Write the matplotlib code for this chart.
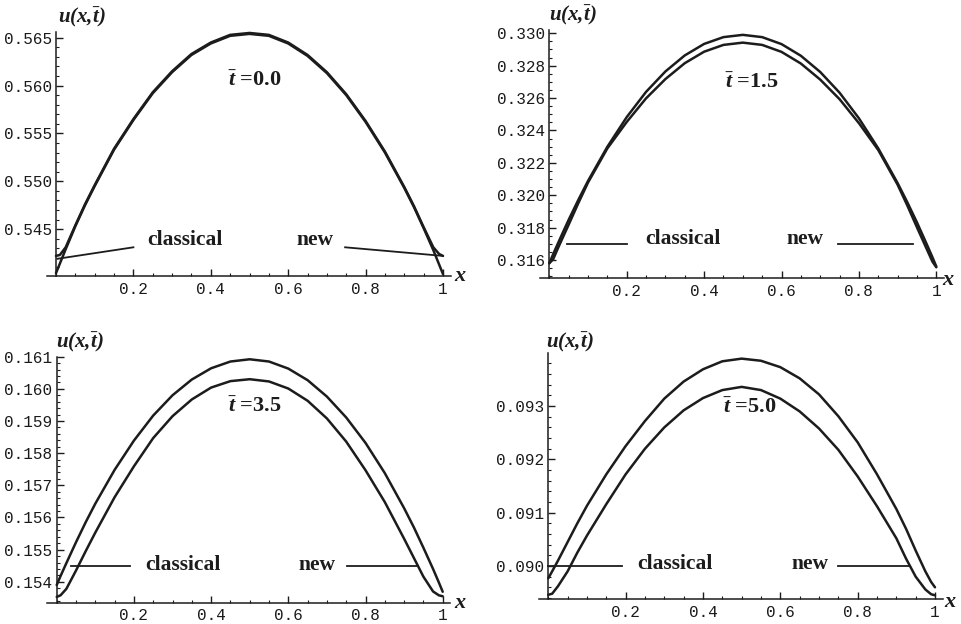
import matplotlib
matplotlib.use("Agg")
import matplotlib.pyplot as plt
from matplotlib.ticker import FixedLocator, MultipleLocator

# ---------------- data ----------------
x = [0, 0.01, 0.025, 0.05, 0.075, 0.1, 0.15, 0.2, 0.25, 0.3, 0.35, 0.4, 0.45, 0.5,
     0.55, 0.6, 0.65, 0.7, 0.75, 0.8, 0.85, 0.9, 0.925, 0.95, 0.975, 0.99, 1.0]

# t = 0.0
classical_t00 = [0.5404, 0.5414, 0.5429, 0.5453, 0.5475, 0.5495, 0.5533, 0.5564, 0.5592,
                 0.5614, 0.5632, 0.5644, 0.5652, 0.5654, 0.5652, 0.5644, 0.5631, 0.5613,
                 0.5590, 0.5562, 0.5530, 0.5493, 0.5473, 0.5451, 0.5428, 0.5413, 0.5403]
new_t00 = [0.5422, 0.5423, 0.5431, 0.5454, 0.5476, 0.5496, 0.5534, 0.5565, 0.5593,
           0.5615, 0.5633, 0.5645, 0.5653, 0.5655, 0.5653, 0.5645, 0.5632, 0.5614,
           0.5591, 0.5563, 0.5531, 0.5494, 0.5474, 0.5452, 0.5431, 0.5424, 0.5422]

# t = 1.5
classical_t15 = [0.31580, 0.31636, 0.31717, 0.31848, 0.31971, 0.32088, 0.32299, 0.32482,
                 0.32638, 0.32764, 0.32863, 0.32934, 0.32976, 0.32990, 0.32976, 0.32933,
                 0.32861, 0.32761, 0.32633, 0.32475, 0.32289, 0.32075, 0.31957, 0.31832,
                 0.31699, 0.31617, 0.31560]
new_t15 = [0.31580, 0.31605, 0.31687, 0.31818, 0.31951, 0.32078, 0.32289, 0.32452,
           0.32598, 0.32717, 0.32815, 0.32886, 0.32928, 0.32942, 0.32928, 0.32885,
           0.32813, 0.32714, 0.32593, 0.32445, 0.32279, 0.32065, 0.31937, 0.31802,
           0.31669, 0.31590, 0.31555]

# t = 3.5
classical_t35 = [0.15390, 0.15418, 0.15458, 0.15523, 0.15585, 0.15643, 0.15748, 0.15839,
                 0.15917, 0.15980, 0.16029, 0.16064, 0.16085, 0.16092, 0.16085, 0.16063,
                 0.16027, 0.15976, 0.15911, 0.15832, 0.15738, 0.15629, 0.15570, 0.15506,
                 0.15440, 0.15398, 0.15369]
new_t35 = [0.15353, 0.15358, 0.15378, 0.15435, 0.15495, 0.15553, 0.15663, 0.15759,
           0.15847, 0.15915, 0.15967, 0.16004, 0.16024, 0.16030, 0.16023, 0.16001,
           0.15963, 0.15908, 0.15836, 0.15747, 0.15648, 0.15534, 0.15475, 0.15416,
           0.15370, 0.15358, 0.15355]

# t = 5.0
classical_t50 = [0.08977, 0.08990, 0.09010, 0.09045, 0.09080, 0.09113, 0.09172, 0.09225,
                 0.09272, 0.09314, 0.09346, 0.09369, 0.09384, 0.09389, 0.09385, 0.09373,
                 0.09352, 0.09322, 0.09281, 0.09232, 0.09172, 0.09107, 0.09070, 0.09029,
                 0.08990, 0.08970, 0.08960]
new_t50 = [0.08946, 0.08948, 0.08962, 0.08990, 0.09025, 0.09057, 0.09116, 0.09172,
           0.09220, 0.09260, 0.09292, 0.09315, 0.09330, 0.09336, 0.09330, 0.09314,
           0.09290, 0.09258, 0.09218, 0.09168, 0.09112, 0.09052, 0.09014, 0.08980,
           0.08956, 0.08947, 0.08945]

time_labels = ["0.0", "1.5", "3.5", "5.0"]
x_ticks = [0.2, 0.4, 0.6, 0.8, 1.0]
x_tick_labels = ["0.2", "0.4", "0.6", "0.8", "1"]
y_ticks_t00 = [0.545, 0.550, 0.555, 0.560, 0.565]
y_ticks_t15 = [0.316, 0.318, 0.320, 0.322, 0.324, 0.326, 0.328, 0.330]
y_ticks_t35 = [0.154, 0.155, 0.156, 0.157, 0.158, 0.159, 0.160, 0.161]
y_ticks_t50 = [0.090, 0.091, 0.092, 0.093]

# ---------------- layout / style ----------------
W, H = 962, 624
INK = "#1c1c1c"
plt.rcParams["mathtext.fontset"] = "custom"
plt.rcParams["mathtext.it"] = "Liberation Serif:italic:bold"
plt.rcParams["mathtext.rm"] = "Liberation Serif:bold"
plt.rcParams["mathtext.bf"] = "Liberation Serif:bold"

fig = plt.figure(figsize=(W / 100, H / 100), dpi=100)
fig.patch.set_facecolor("white")

panels = [
    dict(cls=classical_t00, new=new_t00, yt=y_ticks_t00, ylim=(0.5401, 0.5656),
         ymin=0.001, x0=56.0, sc=387.0, top=32.0, bot=276.0,
         ptr_c=([0.004, 0.2], [0.5419, 0.5431]), ptr_n=([0.747, 1.0], [0.5431, 0.5422]),
         lab_c=(0.333, 0.5439), lab_n=(0.669, 0.5439), lab_t=(0.514, 0.5605),
         ulab=(82, 17), xlab=(460, 276), tl=time_labels[0]),
    dict(cls=classical_t15, new=new_t15, yt=y_ticks_t15, ylim=(0.31487, 0.3302),
         ymin=0.0005, x0=549.3, sc=387.0, top=30.0, bot=278.3,
         ptr_c=([0.0465, 0.2], [0.317, 0.317]), ptr_n=([0.747, 0.9406], [0.317, 0.317]),
         lab_c=(0.346, 0.31728), lab_n=(0.661, 0.31728), lab_t=(0.523, 0.32695),
         ulab=(573, 15), xlab=(948, 280), tl=time_labels[1]),
    dict(cls=classical_t35, new=new_t35, yt=y_ticks_t35, ylim=(0.15335, 0.161),
         ymin=0.0002, x0=56.7, sc=386.0, top=356.7, bot=602.7,
         ptr_c=([0.036, 0.19], [0.1545, 0.1545]), ptr_n=([0.751, 0.937], [0.1545, 0.1545]),
         lab_c=(0.328, 0.15452), lab_n=(0.673, 0.15452), lab_t=(0.514, 0.15944),
         ulab=(80, 342), xlab=(460, 603), tl=time_labels[2]),
    dict(cls=classical_t50, new=new_t50, yt=y_ticks_t50, ylim=(0.089375, 0.09399),
         ymin=0.0002, x0=548.3, sc=386.7, top=353.3, bot=599.3,
         ptr_c=([0.0, 0.19], [0.0900, 0.0900]), ptr_n=([0.75, 0.935], [0.0900, 0.0900]),
         lab_c=(0.328, 0.09004), lab_n=(0.676, 0.09004), lab_t=(0.521, 0.09296),
         ulab=(570, 342), xlab=(950, 602), tl=time_labels[3]),
]

XL, XR = -0.024, 1.02
serif_b = dict(family="Liberation Serif", weight="bold", color=INK)

for p in panels:
    left_px = p["x0"] + XL * p["sc"]
    width_px = (XR - XL) * p["sc"]
    ax = fig.add_axes([left_px / W, (H - p["bot"]) / H, width_px / W,
                       (p["bot"] - p["top"]) / H])
    ax.set_facecolor("none")
    ax.set_xlim(XL, XR)
    ax.set_ylim(*p["ylim"])

    ax.plot(x, p["cls"], color=INK, lw=1.8, solid_capstyle="round",
            solid_joinstyle="round", clip_on=False)
    ax.plot(x, p["new"], color=INK, lw=1.8, solid_capstyle="round",
            solid_joinstyle="round", clip_on=False)
    ax.plot(*p["ptr_c"], color=INK, lw=1.3)
    ax.plot(*p["ptr_n"], color=INK, lw=1.3)

    ax.text(*p["lab_c"], "classical", ha="center", va="center", fontsize=15.5, **serif_b)
    ax.text(*p["lab_n"], "new", ha="center", va="center", fontsize=15.5, **serif_b)
    ax.text(*p["lab_t"], r"$\bar{t}$ =" + p["tl"], ha="center", va="center",
            fontsize=16, **serif_b)

    for s in ("top", "right"):
        ax.spines[s].set_visible(False)
    ax.spines["left"].set_position(("data", 0))
    for s in ("left", "bottom"):
        ax.spines[s].set_linewidth(1.1)
        ax.spines[s].set_color(INK)

    ax.xaxis.set_major_locator(FixedLocator(x_ticks))
    ax.set_xticklabels(x_tick_labels)
    ax.xaxis.set_minor_locator(MultipleLocator(0.05))
    ax.yaxis.set_major_locator(FixedLocator(p["yt"]))
    ax.set_yticklabels([f"{v:.3f}" for v in p["yt"]])
    ax.yaxis.set_minor_locator(MultipleLocator(p["ymin"]))
    ax.tick_params(which="major", direction="in", length=5, width=1.0, color=INK,
                   labelsize=11.5, labelcolor="#1a1a1a")
    ax.tick_params(which="minor", direction="in", length=2.5, width=0.8, color=INK)
    ax.tick_params(axis="x", pad=4)
    ax.tick_params(axis="y", pad=3)
    for lab in ax.get_xticklabels() + ax.get_yticklabels():
        lab.set_family("Liberation Mono")

    fig.text(p["ulab"][0] / W, 1 - p["ulab"][1] / H, r"u(x,$\bar{t}$)",
             ha="center", va="center", fontsize=15, family="Liberation Serif",
             weight="bold", style="italic", color=INK)
    fig.text(p["xlab"][0] / W, 1 - p["xlab"][1] / H, "x", ha="center", va="center",
             fontsize=16, family="Liberation Serif", weight="bold", style="italic",
             color=INK)

fig.savefig("out.png", dpi=100, facecolor="white")
